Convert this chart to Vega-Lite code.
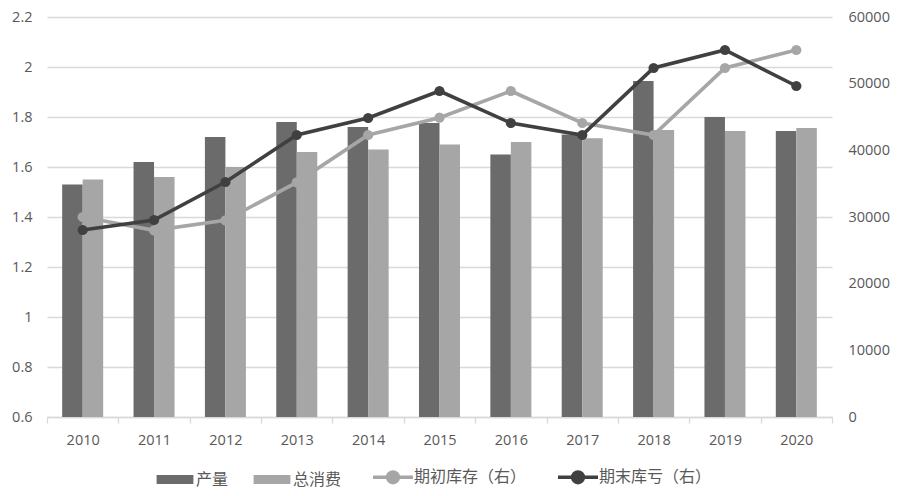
{
  "$schema": "https://vega.github.io/schema/vega-lite/v6.json",
  "width": 785,
  "height": 400,
  "autosize": {"type": "none"},
  "padding": {"left": 47, "top": 17, "right": 68, "bottom": 79},
  "background": "#ffffff",
  "config": {
    "view": {"stroke": null},
    "font": "Open Sans",
    "axis": {"labelFont": "Open Sans", "labelFontSize": 14.5, "labelColor": "#595959", "title": null},
    "legend": {"layout": {"anchor": "middle"}}
  },
  "datasets": {
    "bars": [
      {"year": "2010", "series": "产量", "value": 1.53},
      {"year": "2010", "series": "总消费", "value": 1.55},
      {"year": "2011", "series": "产量", "value": 1.62},
      {"year": "2011", "series": "总消费", "value": 1.56},
      {"year": "2012", "series": "产量", "value": 1.72},
      {"year": "2012", "series": "总消费", "value": 1.60},
      {"year": "2013", "series": "产量", "value": 1.78},
      {"year": "2013", "series": "总消费", "value": 1.66},
      {"year": "2014", "series": "产量", "value": 1.76},
      {"year": "2014", "series": "总消费", "value": 1.67},
      {"year": "2015", "series": "产量", "value": 1.776},
      {"year": "2015", "series": "总消费", "value": 1.69},
      {"year": "2016", "series": "产量", "value": 1.65},
      {"year": "2016", "series": "总消费", "value": 1.70},
      {"year": "2017", "series": "产量", "value": 1.73},
      {"year": "2017", "series": "总消费", "value": 1.715},
      {"year": "2018", "series": "产量", "value": 1.944},
      {"year": "2018", "series": "总消费", "value": 1.748},
      {"year": "2019", "series": "产量", "value": 1.80},
      {"year": "2019", "series": "总消费", "value": 1.744},
      {"year": "2020", "series": "产量", "value": 1.744},
      {"year": "2020", "series": "总消费", "value": 1.756}
    ],
    "lines": [
      {"year": "2010", "series": "期初库存（右）", "value": 30000},
      {"year": "2011", "series": "期初库存（右）", "value": 28000},
      {"year": "2012", "series": "期初库存（右）", "value": 29500},
      {"year": "2013", "series": "期初库存（右）", "value": 35200},
      {"year": "2014", "series": "期初库存（右）", "value": 42300},
      {"year": "2015", "series": "期初库存（右）", "value": 44900},
      {"year": "2016", "series": "期初库存（右）", "value": 48900},
      {"year": "2017", "series": "期初库存（右）", "value": 44100},
      {"year": "2018", "series": "期初库存（右）", "value": 42300},
      {"year": "2019", "series": "期初库存（右）", "value": 52350},
      {"year": "2020", "series": "期初库存（右）", "value": 55050},
      {"year": "2010", "series": "期末库亏（右）", "value": 28050},
      {"year": "2011", "series": "期末库亏（右）", "value": 29550},
      {"year": "2012", "series": "期末库亏（右）", "value": 35250},
      {"year": "2013", "series": "期末库亏（右）", "value": 42300},
      {"year": "2014", "series": "期末库亏（右）", "value": 44850},
      {"year": "2015", "series": "期末库亏（右）", "value": 48900},
      {"year": "2016", "series": "期末库亏（右）", "value": 44100},
      {"year": "2017", "series": "期末库亏（右）", "value": 42300},
      {"year": "2018", "series": "期末库亏（右）", "value": 52350},
      {"year": "2019", "series": "期末库亏（右）", "value": 55050},
      {"year": "2020", "series": "期末库亏（右）", "value": 49650}
    ]
  },
  "layer": [
    {
      "data": {"name": "bars"},
      "mark": {"type": "bar"},
      "encoding": {
        "x": {
          "field": "year", "type": "ordinal",
          "scale": {"paddingInner": 0, "paddingOuter": 0},
          "axis": {
            "labelAngle": 0, "tickBand": "extent", "domainColor": "#d9d9d9", "domainWidth": 1.3,
            "tickColor": "#d9d9d9", "tickWidth": 1.3, "tickSize": 6, "labelPadding": 10, "grid": false
          }
        },
        "xOffset": {"field": "series", "sort": ["产量", "总消费"], "scale": {"paddingInner": 0, "paddingOuter": 0.74}},
        "y": {
          "field": "value", "type": "quantitative",
          "scale": {"domain": [0.6, 2.2], "zero": false, "nice": false},
          "axis": {
            "values": [0.6, 0.8, 1, 1.2, 1.4, 1.6, 1.8, 2, 2.2], "format": "~g",
            "grid": true, "gridColor": "#d9d9d9", "gridWidth": 1.3,
            "domain": false, "ticks": false, "labelPadding": 15
          }
        },
        "y2": {"datum": 0.6},
        "color": {
          "field": "series", "type": "nominal",
          "scale": {
            "domain": ["产量", "总消费", "期初库存（右）", "期末库亏（右）"],
            "range": ["#6b6b6b", "#a6a6a6", "#a6a6a6", "#404040"]
          },
          "legend": {
            "orient": "bottom", "direction": "horizontal", "title": null,
            "symbolSize": 1600, "labelFont": "Noto Sans CJK SC", "labelFontSize": 16,
            "labelColor": "#595959", "labelOffset": 13, "columnPadding": 24, "offset": 22,
            "encode": {
              "symbols": {
                "update": {
                  "shape": {"signal": "indexof(['产量','总消费'], datum.value) >= 0 ? 'M-0.92,-0.22H0.92V0.22H-0.92Z' : 'M-1,0H1M0.27,0A0.27,0.27,0,1,1,-0.27,0A0.27,0.27,0,1,1,0.27,0Z'"},
                  "fill": {"scale": "color", "field": "value"},
                  "stroke": {"scale": "color", "field": "value"},
                  "strokeWidth": {"signal": "indexof(['产量','总消费'], datum.value) >= 0 ? 0 : 3.5"},
                  "opacity": {"value": 1}
                }
              }
            }
          }
        }
      }
    },
    {
      "data": {"name": "lines"},
      "mark": {"type": "line", "strokeWidth": 3.6, "point": {"filled": true, "size": 105, "opacity": 1}},
      "encoding": {
        "x": {"field": "year", "type": "ordinal"},
        "y": {
          "field": "value", "type": "quantitative",
          "scale": {"domain": [0, 60000], "nice": false},
          "axis": {
            "orient": "right", "values": [0, 10000, 20000, 30000, 40000, 50000, 60000], "format": "d",
            "grid": false, "domain": false, "ticks": false, "labelPadding": 16
          }
        },
        "color": {"field": "series", "type": "nominal"}
      }
    }
  ],
  "resolve": {"scale": {"y": "independent"}}
}
